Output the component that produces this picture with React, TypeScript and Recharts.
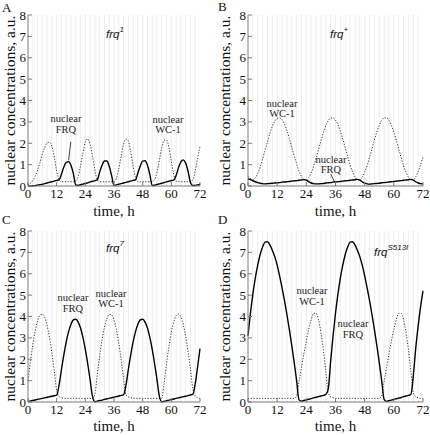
import React from "react";
import { LineChart, Line, XAxis, YAxis, ReferenceLine } from "recharts";

// time axis (hours), one sample per hour
const hours = [
  0, 1, 2, 3, 4, 5, 6, 7, 8, 9, 10, 11, 12, 13, 14, 15, 16, 17, 18, 19, 20, 21, 22, 23, 24,
  25, 26, 27, 28, 29, 30, 31, 32, 33, 34, 35, 36, 37, 38, 39, 40, 41, 42, 43, 44, 45, 46, 47, 48,
  49, 50, 51, 52, 53, 54, 55, 56, 57, 58, 59, 60, 61, 62, 63, 64, 65, 66, 67, 68, 69, 70, 71, 72,
];
const xTicks = [0, 12, 24, 36, 48, 60, 72];
const yTicks = [0, 1, 2, 3, 4, 5, 6, 7, 8];
const gridHours = [
  2, 4, 6, 8, 10, 12, 14, 16, 18, 20, 22, 24, 26, 28, 30, 32, 34, 36, 38, 40, 42, 44, 46, 48, 50,
  52, 54, 56, 58, 60, 62, 64, 66, 68, 70,
];

// A: frq1
const aFrq = [
  0, 0, 0.01, 0.02, 0.04, 0.06, 0.08, 0.11, 0.14, 0.17, 0.2, 0.23,
  0.26, 0.29, 0.55, 0.89, 1.1, 1.14, 0.96, 0.58, 0.05, 0.03, 0.06, 0.09,
  0.12, 0.15, 0.19, 0.22, 0.25, 0.29, 0.65, 0.97, 1.17, 1.17, 0.93, 0.49,
  0.02, 0.05, 0.08, 0.11, 0.14, 0.17, 0.2, 0.23, 0.26, 0.29, 0.61, 0.94,
  1.16, 1.18, 0.97, 0.54, 0.02, 0.04, 0.07, 0.1, 0.13, 0.16, 0.19, 0.22,
  0.25, 0.28, 0.49, 0.86, 1.13, 1.22, 1.07, 0.69, 0.16, 0.02, 0.03, 0.05,
  0.08,
];
const aWc1 = [
  0.05, 0.12, 0.25, 0.45, 0.75, 1.1, 1.5, 1.8, 2.02, 2.05, 1.85, 1.35,
  0.7, 0.3, 0.2, 0.2, 0.2, 0.2, 0.2, 0.2, 0.25, 0.45, 0.95, 1.55,
  2.05, 2.2, 1.95, 1.4, 0.75, 0.3, 0.2, 0.2, 0.2, 0.2, 0.2, 0.2,
  0.2, 0.35, 0.8, 1.4, 1.95, 2.2, 2.1, 1.6, 0.95, 0.4, 0.2, 0.2,
  0.2, 0.2, 0.2, 0.2, 0.22, 0.3, 0.65, 1.2, 1.8, 2.15, 2.15, 1.8,
  1.15, 0.55, 0.22, 0.2, 0.2, 0.2, 0.2, 0.2, 0.2, 0.3, 0.7, 1.3,
  1.85,
];

// B: frq+
const bFrq = [
  0.33, 0.3, 0.25, 0.2, 0.16, 0.13, 0.11, 0.1, 0.11, 0.12, 0.13, 0.14,
  0.15, 0.16, 0.18, 0.19, 0.2, 0.21, 0.23, 0.24, 0.25, 0.27, 0.28, 0.3,
  0.27, 0.2, 0.14, 0.11, 0.1, 0.1, 0.11, 0.12, 0.14, 0.15, 0.16, 0.18,
  0.19, 0.2, 0.21, 0.23, 0.24, 0.25, 0.27, 0.28, 0.29, 0.31, 0.28, 0.2,
  0.13, 0.1, 0.09, 0.1, 0.11, 0.12, 0.13, 0.15, 0.16, 0.17, 0.19, 0.2,
  0.21, 0.23, 0.24, 0.25, 0.27, 0.28, 0.29, 0.31, 0.28, 0.2, 0.14, 0.11,
  0.1,
];
const bWc1 = [
  0.45, 0.35, 0.29, 0.38, 0.58, 0.88, 1.25, 1.66, 2.07, 2.46, 2.79, 3.03,
  3.17, 3.19, 3.1, 2.9, 2.6, 2.23, 1.82, 1.41, 1.03, 0.69, 0.45, 0.31,
  0.28, 0.4, 0.61, 0.92, 1.29, 1.7, 2.11, 2.49, 2.82, 3.05, 3.18, 3.19,
  3.08, 2.87, 2.56, 2.19, 1.78, 1.37, 0.99, 0.66, 0.43, 0.3, 0.28, 0.41,
  0.64, 0.95, 1.33, 1.74, 2.15, 2.53, 2.84, 3.07, 3.19, 3.19, 3.07, 2.84,
  2.53, 2.15, 1.74, 1.33, 0.95, 0.64, 0.41, 0.29, 0.29, 0.43, 0.66, 0.99,
  1.37,
];

// C: frq7
const cFrq = [
  0.02, 0.045, 0.07, 0.095, 0.12, 0.145, 0.17, 0.195, 0.22, 0.245, 0.27, 0.295,
  0.32, 0.79, 1.52, 2.21, 2.81, 3.29, 3.64, 3.84, 3.87, 3.74, 3.46, 3.02,
  2.46, 1.79, 1.05, 0.26, 0.01, 0.04, 0.065, 0.09, 0.12, 0.15, 0.17, 0.2,
  0.23, 0.25, 0.28, 0.31, 0.33, 0.79, 1.52, 2.21, 2.81, 3.29, 3.64, 3.84,
  3.87, 3.74, 3.46, 3.02, 2.46, 1.79, 1.05, 0.26, 0.01, 0.03, 0.06, 0.09,
  0.11, 0.14, 0.17, 0.19, 0.22, 0.25, 0.27, 0.3, 0.33, 0.36, 0.85, 1.65,
  2.5,
];
const cWc1 = [
  1.01, 1.88, 2.67, 3.32, 3.79, 4.06, 4.11, 3.95, 3.57, 3.01, 2.29, 1.46,
  0.54, 0.28, 0.2, 0.17, 0.17, 0.17, 0.17, 0.17, 0.17, 0.17, 0.17, 0.17,
  0.17, 0.17, 0.17, 0.17, 0.36, 1.28, 2.15, 2.9, 3.49, 3.9, 4.1, 4.08,
  3.84, 3.39, 2.76, 1.98, 1.1, 0.33, 0.24, 0.2, 0.17, 0.17, 0.17, 0.17,
  0.17, 0.17, 0.17, 0.17, 0.17, 0.17, 0.17, 0.17, 0.17, 0.91, 1.8, 2.6,
  3.26, 3.75, 4.04, 4.12, 3.97, 3.62, 3.08, 2.37, 1.54, 0.63, 0.28, 0.2,
  0.17,
];

// D: frqS513I
const dFrq = [
  3.1, 4.15, 5.05, 5.8, 6.4, 6.9, 7.25, 7.48, 7.5, 7.35, 7.1, 6.8,
  6.4, 5.9, 5.35, 4.75, 4.1, 3.4, 2.65, 1.85, 1.0, 0.1, 0.04, 0.07,
  0.1, 0.13, 0.16, 0.19, 0.22, 0.25, 0.28, 0.31, 0.35, 0.6, 1.9, 3.1,
  4.15, 5.05, 5.8, 6.4, 6.9, 7.25, 7.48, 7.5, 7.35, 7.1, 6.8, 6.4,
  5.9, 5.35, 4.75, 4.1, 3.4, 2.65, 1.85, 1.0, 0.12, 0.03, 0.06, 0.09,
  0.12, 0.15, 0.18, 0.21, 0.25, 0.28, 0.31, 0.35, 1.2, 2.5, 3.55, 4.45,
  5.2,
];
const dWc1 = [
  0.17, 0.17, 0.17, 0.17, 0.17, 0.17, 0.17, 0.17, 0.17, 0.17, 0.17, 0.17,
  0.17, 0.17, 0.17, 0.17, 0.17, 0.17, 0.17, 0.17, 0.3, 0.95, 1.6, 2.25,
  2.85, 3.4, 3.85, 4.15, 4.15, 3.85, 3.25, 2.45, 1.45, 0.45, 0.25, 0.2,
  0.17, 0.17, 0.17, 0.17, 0.17, 0.17, 0.17, 0.17, 0.17, 0.17, 0.17, 0.17,
  0.17, 0.17, 0.17, 0.17, 0.17, 0.17, 0.17, 0.3, 0.95, 1.6, 2.25, 2.85,
  3.4, 3.85, 4.15, 4.15, 3.85, 3.25, 2.45, 1.45, 0.45, 0.25, 0.2, 0.17,
  0.17,
];

const serif = "'Liberation Serif', 'Times New Roman', serif";
const sans = "'Liberation Sans', Arial, sans-serif";
const frame = "#7a7a7a";

type Seg = { x: number; y: number }[];

function Panel(props: {
  left: number;
  top: number;
  yWidth: number;
  right: number;
  frq: number[];
  wc1: number[];
  pointer?: Seg;
}) {
  const { left, top, yWidth, right, frq, wc1, pointer } = props;
  const rows = hours.map((h, i) => ({ h, frq: frq[i], wc1: wc1[i] }));
  const tick = { fill: "#111", fontFamily: serif, fontSize: 13 };
  return (
    <div style={{ position: "absolute", left, top }}>
      <LineChart width={215} height={218} data={rows} margin={{ top: 15, right, bottom: 2, left: 0 }}>
        {gridHours.map((g) => (
          <ReferenceLine key={g} x={g} stroke="#ededed" strokeWidth={1} />
        ))}
        <XAxis
          dataKey="h"
          type="number"
          domain={[0, 72]}
          ticks={xTicks}
          height={30}
          stroke={frame}
          tickSize={-4}
          tickMargin={7}
          tick={tick}
          interval={0}
        />
        <XAxis
          xAxisId="top"
          orientation="top"
          type="number"
          domain={[0, 72]}
          ticks={xTicks}
          height={0}
          stroke={frame}
          tickSize={-4}
          tickFormatter={() => ""}
        />
        <YAxis
          type="number"
          domain={[0, 8]}
          ticks={yTicks}
          width={yWidth}
          stroke={frame}
          tickSize={-4}
          tickMargin={6}
          tick={tick}
          interval={0}
        />
        <YAxis
          yAxisId="right"
          orientation="right"
          type="number"
          domain={[0, 8]}
          ticks={yTicks}
          width={0}
          stroke={frame}
          tickSize={-4}
          tickFormatter={() => ""}
        />
        {pointer && <ReferenceLine segment={pointer} stroke="#111" strokeWidth={0.8} />}
        <Line
          dataKey="wc1"
          type="monotone"
          stroke="#333"
          strokeWidth={1}
          strokeDasharray="1.2 1.6"
          dot={false}
          isAnimationActive={false}
        />
        <Line
          dataKey="frq"
          type="monotone"
          stroke="#000"
          strokeWidth={1.4}
          dot={false}
          isAnimationActive={false}
        />
      </LineChart>
    </div>
  );
}

function Note({ x, y, lines }: { x: number; y: number; lines: string[] }) {
  return (
    <text x={x} y={y} textAnchor="middle" fontFamily={serif} fontSize={10.5} fill="#222">
      {lines.map((l, i) => (
        <tspan key={i} x={x} dy={i === 0 ? 0 : 10.5}>
          {l}
        </tspan>
      ))}
    </text>
  );
}

function Strain({ x, y, sup }: { x: number; y: number; sup: string }) {
  return (
    <text x={x} y={y} fontFamily={sans} fontStyle="italic" fontSize={11.5} fill="#111">
      frq
      <tspan fontSize={8} dy={-6}>
        {sup}
      </tspan>
    </text>
  );
}

function Titles({ dx, dy, base }: { dx: number; dy: number; base: number }) {
  const plotLeft = dx === 0 ? 28 : 248;
  const plotRight = dx === 0 ? 200 : 423;
  const cx = (plotLeft + plotRight) / 2;
  const cy = dy + 100.5;
  const yx = dx + 15;
  return (
    <g fontFamily={serif} fill="#111">
      <text x={cx} y={base} textAnchor="middle" fontSize={15}>
        time, h
      </text>
      <text
        x={yx}
        y={cy}
        textAnchor="middle"
        fontSize={15.5}
        transform={`rotate(-90 ${yx} ${cy})`}
      >
        nuclear concentrations, a.u.
      </text>
    </g>
  );
}

export default function App() {
  return (
    <div style={{ position: "absolute", left: 0, top: 0, width: 430, height: 435, background: "#fff" }}>
      <Panel left={0} top={0} yWidth={28} right={15} frq={aFrq} wc1={aWc1} pointer={[{ x: 17.9, y: 2.07 }, { x: 17.0, y: 1.2 }]} />
      <Panel left={215} top={0} yWidth={33} right={7} frq={bFrq} wc1={bWc1} pointer={[{ x: 34.0, y: 0.56 }, { x: 35.7, y: 0.17 }]} />
      <Panel left={0} top={216} yWidth={28} right={15} frq={cFrq} wc1={cWc1} />
      <Panel left={215} top={216} yWidth={33} right={7} frq={dFrq} wc1={dWc1} />
      <svg width={430} height={435} style={{ position: "absolute", left: 0, top: 0, pointerEvents: "none" }}>
        <g fontFamily={serif} fontSize={13} fill="#111">
          <text x={2} y={12}>A</text>
          <text x={218} y={11}>B</text>
          <text x={2} y={224}>C</text>
          <text x={218} y={224}>D</text>
        </g>
        <Titles dx={0} dy={0} base={216} />
        <Titles dx={215} dy={0} base={216} />
        <Titles dx={0} dy={216} base={431} />
        <Titles dx={215} dy={216} base={431} />
        <Strain x={106} y={37.5} sup="1" />
        <Strain x={330} y={37.5} sup="+" />
        <Strain x={106} y={252} sup="7" />
        <Strain x={374} y={256} sup="S513I" />
        <Note x={66} y={122} lines={["nuclear", "FRQ"]} />
        <Note x={168} y={122.5} lines={["nuclear", "WC-1"]} />
        <Note x={282} y={106.5} lines={["nuclear", "WC-1"]} />
        <Note x={331} y={162.5} lines={["nuclear", "FRQ"]} />
        <Note x={73} y={301} lines={["nuclear", "FRQ"]} />
        <Note x={111} y={296.5} lines={["nuclear", "WC-1"]} />
        <Note x={312} y={294} lines={["nuclear", "WC-1"]} />
        <Note x={353} y={327} lines={["nuclear", "FRQ"]} />
      </svg>
    </div>
  );
}
